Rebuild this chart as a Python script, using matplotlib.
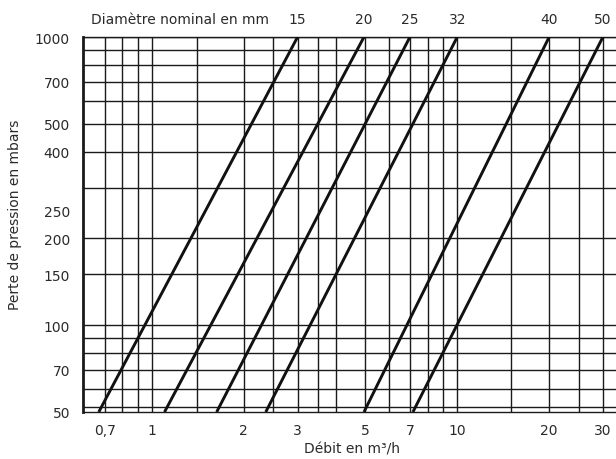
import matplotlib
matplotlib.use("Agg")
import matplotlib.pyplot as plt
import matplotlib.transforms as mtransforms

plt.rcParams['font.family'] = ['DejaVu Sans']

# ---- data ----
dn_labels = ['15', '20', '25', '32', '40', '50']
pressure_ends = [50, 1000]                      # mbar
flow_at_50 = [0.67, 1.10, 1.63, 2.36, 4.95, 7.16]   # m3/h at 50 mbar
flow_at_1000 = [3.0, 4.95, 7.0, 10.0, 20.0, 30.0]   # m3/h at 1000 mbar

x_ticks = [0.7, 1, 2, 3, 5, 7, 10, 20, 30]
x_ticklabels = ['0,7', '1', '2', '3', '5', '7', '10', '20', '30']
y_ticks = [50, 70, 100, 150, 200, 250, 400, 500, 700, 1000]
y_ticklabels = ['50', '70', '100', '150', '200', '250', '400', '500', '700', '1000']

x_grid = [0.7, 0.8, 0.9, 1, 1.4, 2, 2.5, 3, 3.5, 4, 5, 6, 7, 8, 9, 10, 15, 20, 25, 30]
y_grid = [52, 60, 70, 80, 90, 100, 150, 200, 300, 400, 500, 600, 700, 800, 900, 1000]

# ---- figure ----
W, H = 616, 460
fig = plt.figure(figsize=(W / 100, H / 100), dpi=100)
left_px, right_px, top_px, bot_px = 82.5, 630, 38, 413
ax = fig.add_axes([left_px / W, 1 - bot_px / H, (right_px - left_px) / W, (bot_px - top_px) / H])
ax.set_xscale('log')
ax.set_yscale('log')
ax.set_xlim(0.5926, 36.8)
ax.set_ylim(50, 1000)

txt = '#2a2a2a'
gc = '#1a1a1a'
for xv in x_grid:
    ax.axvline(xv, color=gc, lw=1.0, zorder=1)
for yv in y_grid:
    ax.axhline(yv, color=gc, lw=1.0, zorder=1)

for lab, q0, q1 in zip(dn_labels, flow_at_50, flow_at_1000):
    ax.plot([q0, q1], pressure_ends, color='#111111', lw=2.1, zorder=3, solid_capstyle='butt')

ax.minorticks_off()
ax.set_xticks(x_ticks)
ax.set_xticklabels(x_ticklabels)
ax.set_yticks(y_ticks)
ax.set_yticklabels(y_ticklabels)
ax.tick_params(axis='both', length=0, labelsize=10, colors=txt)
ax.tick_params(axis='x', pad=8)
ax.tick_params(axis='y', pad=9)

for s in ['top', 'right', 'bottom']:
    ax.spines[s].set_linewidth(1.0)
    ax.spines[s].set_color(gc)
ax.spines['right'].set_visible(False)
ax.spines['left'].set_linewidth(2.0)
ax.spines['left'].set_color(gc)

# DN labels above each line's top end
trans = mtransforms.blended_transform_factory(ax.transData, fig.transFigure)
for lab, q1 in zip(dn_labels, flow_at_1000):
    ax.text(q1, 1 - 20 / H, lab, transform=trans, ha='center', va='center',
            fontsize=10, color=txt)

fig.text(180 / W, 1 - 20 / H, 'Diamètre nominal en mm', ha='center', va='center',
         fontsize=10, color=txt)
fig.text(15 / W, 1 - 215 / H, 'Perte de pression en mbars', rotation=90,
         ha='center', va='center', fontsize=10, color=txt)
fig.text(352 / W, 1 - 450 / H, 'Débit en m³/h', ha='center', va='center',
         fontsize=10, color=txt)

fig.savefig('out.png', dpi=100)
